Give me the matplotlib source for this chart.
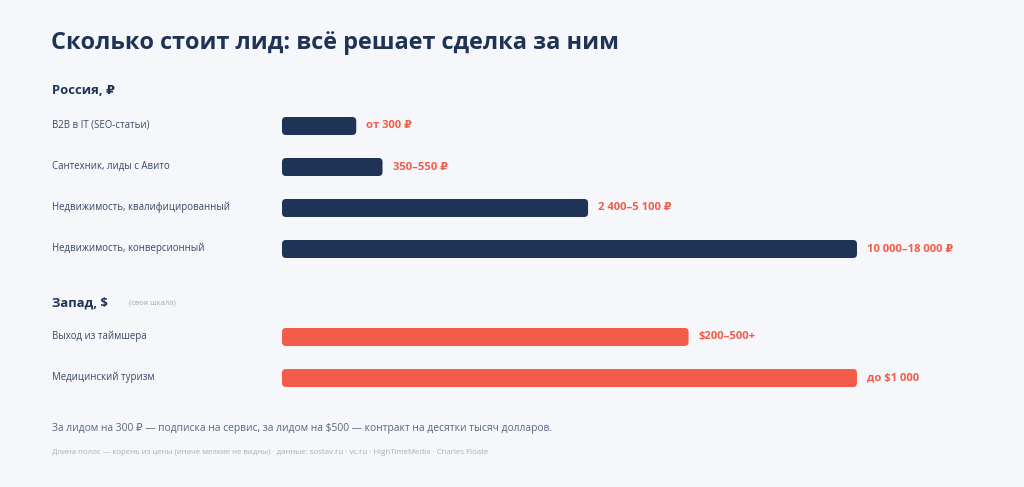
import matplotlib
matplotlib.use("Agg")
import matplotlib.pyplot as plt
import numpy as np
from matplotlib.patches import FancyBboxPatch

plt.rcParams['font.family'] = ['Open Sans', 'DejaVu Sans']

# data
russia_labels = ['B2B в IT (SEO-статьи)', 'Сантехник, лиды с Авито',
                 'Недвижимость, квалифицированный', 'Недвижимость, конверсионный']
russia_top = [300, 550, 5100, 18000]          # upper price, rubles
russia_text = ['от 300 ₽', '350–550 ₽', '2 400–5 100 ₽', '10 000–18 000 ₽']

west_labels = ['Выход из таймшера', 'Медицинский туризм']
west_top = [500, 1000]                         # upper price, dollars
west_text = ['$200–500+', 'до $1 000']

NAVY = '#1f3356'
CORAL = '#f25c48'
BG = '#f6f7fb'
W, H = 1024, 487

fig = plt.figure(figsize=(W / 100, H / 100), dpi=100, facecolor=BG)

# full-figure axes for free text, pixel coordinates
ax_bg = fig.add_axes([0, 0, 1, 1])
ax_bg.set_xlim(0, W)
ax_bg.set_ylim(H, 0)
ax_bg.axis('off')


def bar_axes(top_px, n_rows, row_px=41, left_px=282, width_px=575):
    bottom_px = top_px + n_rows * row_px
    ax = fig.add_axes([left_px / W, 1 - bottom_px / H, width_px / W, n_rows * row_px / H])
    ax.set_facecolor('none')
    ax.axis('off')
    return ax


def draw_section(ax, labels, values, texts, color, bar_h_px=18, radius_px=4):
    n = len(values)
    xmax = np.sqrt(max(values))
    ax.set_xlim(0, xmax)
    ax.set_ylim(n - 0.5, -0.5)
    # pixels per data unit, for rounded corners
    bbox = ax.get_position()
    px_x = bbox.width * W / xmax
    px_y = bbox.height * H / n
    bh = bar_h_px / px_y
    r = radius_px / px_x
    aspect = px_x / px_y
    for i, v in enumerate(values):
        L = np.sqrt(v)
        p = FancyBboxPatch((0, i - bh / 2), L, bh,
                           boxstyle=f"round,pad=0,rounding_size={r}",
                           mutation_aspect=aspect, fc=color, ec='none')
        ax.add_patch(p)
        ax.annotate(texts[i], (L, i), xytext=(10, 0), textcoords='offset pixels',
                    ha='left', va='center', fontsize=8.1, fontweight='bold',
                    color=CORAL, annotation_clip=False)
    # category labels on the left
    for i, lab in enumerate(labels):
        y_px = H - (bbox.y1 * H) + (i + 0.5) * px_y - 1
        ax_bg.text(52, y_px, lab, fontsize=6.9, color='#3a4866', va='center', ha='left')


ax_ru = bar_axes(105.5, len(russia_top))
draw_section(ax_ru, russia_labels, russia_top, russia_text, NAVY)

ax_w = bar_axes(316.5, len(west_top))
draw_section(ax_w, west_labels, west_top, west_text, CORAL)

ax_bg.text(51, 43, 'Сколько стоит лид: всё решает сделка за ним', fontsize=16.9,
           fontweight='bold', color=NAVY, va='center', ha='left')
ax_bg.text(52, 91, 'Россия, ₽', fontsize=9.4, fontweight='bold', color=NAVY,
           va='center', ha='left')
ax_bg.text(52, 303, 'Запад, $', fontsize=9.4, fontweight='bold', color=NAVY,
           va='center', ha='left')
ax_bg.text(129, 303, '(своя шкала)', fontsize=5.5, color='#a0a8b8', va='center', ha='left')
ax_bg.text(52, 429, 'За лидом на 300 ₽ — подписка на сервис, за лидом на $500 — контракт на десятки тысяч долларов.',
           fontsize=7.35, color='#5a6680', va='center', ha='left')
ax_bg.text(52, 453, 'Длина полос — корень из цены (иначе мелкие не видны) · данные: sostav.ru · vc.ru · HighTimeMedia · Charles Floate',
           fontsize=5.7, color='#a8aebb', va='center', ha='left')

fig.savefig('out.png', dpi=100, facecolor=BG)
